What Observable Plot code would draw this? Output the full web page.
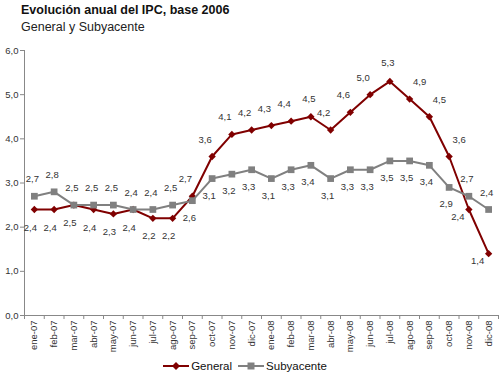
<!DOCTYPE html>
<html>
<head>
<meta charset="utf-8">
<script src="https://cdn.jsdelivr.net/npm/d3@7"></script>
<script src="https://cdn.jsdelivr.net/npm/@observablehq/plot@0.6"></script>
<style>
  html, body { margin: 0; padding: 0; background: #fff; }
  body { width: 500px; height: 374px; position: relative; overflow: hidden; font-family: "Liberation Sans", Arial, sans-serif; }
  #title { position: absolute; left: 21px; top: 3px; font-size: 12.5px; line-height: 14px; font-weight: bold; color: #111; }
  #subtitle { position: absolute; left: 21px; top: 20px; font-size: 12.5px; line-height: 14px; color: #222; }
  #chart { position: absolute; left: 0; top: 38px; }
  #legend { position: absolute; left: 0; top: 359px; width: 490px; display: flex; justify-content: center; align-items: center; font-size: 11.5px; line-height: 14px; color: #111; }
  #legend .item { display: flex; align-items: center; margin: 0 3px; }
  #legend svg { margin-right: 2px; }
</style>
</head>
<body>
<div id="title">Evolución anual del IPC, base 2006</div>
<div id="subtitle">General y Subyacente</div>
<div id="chart"></div>
<div id="legend"></div>
<script>
const months = ["ene-07","feb-07","mar-07","abr-07","may-07","jun-07","jul-07","ago-07","sep-07","oct-07","nov-07","dic-07",
                "ene-08","feb-08","mar-08","abr-08","may-08","jun-08","jul-08","ago-08","sep-08","oct-08","nov-08","dic-08"];
const general    = [2.4,2.4,2.5,2.4,2.3,2.4,2.2,2.2,2.7,3.6,4.1,4.2,4.3,4.4,4.5,4.2,4.6,5.0,5.3,4.9,4.5,3.6,2.4,1.4];
const subyacente = [2.7,2.8,2.5,2.5,2.5,2.4,2.4,2.5,2.6,3.1,3.2,3.3,3.1,3.3,3.4,3.1,3.3,3.3,3.5,3.5,3.4,2.9,2.7,2.4];
const yTicks = [0,1,2,3,4,5,6];
const seriesNames = ["General", "Subyacente"];
const colorGeneral = "#800000";
const colorSub = "#808080";

const fmt = v => v.toFixed(1).replace(".", ",");
const rows = months.map((m, i) => {
  const gp = i > 0 ? general[i-1] : general[i];
  const gn = i < months.length - 1 ? general[i+1] : general[i];
  return {i, m, g: general[i], s: subyacente[i], gSlope: gn - gp, gAbove: general[i] > subyacente[i]};
});

const txt = {fill: "#333", fontSize: 9.5, lineAnchor: "middle"};
const gAboveUp   = rows.filter(d => d.gAbove && d.gSlope > 0.05);
const gAboveDown = rows.filter(d => d.gAbove && d.gSlope < -0.3);
const gAboveFlat = rows.filter(d => d.gAbove && d.gSlope <= 0.05 && d.gSlope >= -0.3);
const gBelowDown = rows.filter(d => !d.gAbove && d.gSlope < -0.3);
const gBelowRest = rows.filter(d => !d.gAbove && d.gSlope >= -0.3);

const boundaries = d3.range(months.length + 1).map(i => i - 0.5);

const chart = Plot.plot({
  width: 500,
  height: 318,
  marginLeft: 24,
  marginRight: 2,
  marginTop: 12,
  marginBottom: 41,
  style: {fontFamily: "Liberation Sans, Arial, sans-serif", background: "transparent"},
  x: {type: "linear", domain: [-0.5, months.length - 0.5], label: null},
  y: {domain: [0, 6], label: null},
  marks: [
    Plot.axisY({ticks: yTicks, tickFormat: fmt, tickSize: 4, tickPadding: 2, fontSize: 9.5, color: "#333", stroke: "#888"}),
    Plot.axisX({ticks: d3.range(months.length), tickFormat: i => months[i], tickSize: 0, tickPadding: 5, tickRotate: -90, fontSize: 9.5, color: "#333"}),
    Plot.axisX({ticks: boundaries, tickFormat: () => "", tickSize: 4, stroke: "#888"}),
    Plot.ruleX([-0.5], {stroke: "#888"}),
    Plot.ruleY([0], {stroke: "#888"}),
    Plot.line(rows, {x: "i", y: "g", stroke: colorGeneral, strokeWidth: 2}),
    Plot.dot(rows, {x: "i", y: "g", symbol: "diamond2", r: 3.3, fill: colorGeneral, stroke: "none"}),
    Plot.line(rows, {x: "i", y: "s", stroke: colorSub, strokeWidth: 2}),
    Plot.dot(rows, {x: "i", y: "s", symbol: "square", r: 3.8, fill: colorSub, stroke: "none"}),
    Plot.text(gAboveUp,   {x: "i", y: "g", text: d => fmt(d.g), dx: -7, dy: -17, ...txt}),
    Plot.text(gAboveDown, {x: "i", y: "g", text: d => fmt(d.g), dx: 10, dy: -17, ...txt}),
    Plot.text(gAboveFlat, {x: "i", y: "g", text: d => fmt(d.g), dx: -2, dy: -18, ...txt}),
    Plot.text(gBelowDown, {x: "i", y: "g", text: d => fmt(d.g), dx: -11, dy: 7, ...txt}),
    Plot.text(gBelowRest, {x: "i", y: "g", text: d => fmt(d.g), dx: -4, dy: 18, ...txt}),
    Plot.text(rows.filter(d => d.gAbove),  {x: "i", y: "s", text: d => fmt(d.s), dx: -3, dy: 17, ...txt}),
    Plot.text(rows.filter(d => !d.gAbove), {x: "i", y: "s", text: d => fmt(d.s), dx: -2, dy: -17, ...txt})
  ]
});
document.getElementById("chart").appendChild(chart);

// Legend
const legend = document.getElementById("legend");
const swatches = [
  {name: seriesNames[0], color: colorGeneral, shape: "diamond"},
  {name: seriesNames[1], color: colorSub, shape: "square"}
];
for (const s of swatches) {
  const item = document.createElement("div");
  item.className = "item";
  const ns = "http://www.w3.org/2000/svg";
  const svg = document.createElementNS(ns, "svg");
  svg.setAttribute("width", 26); svg.setAttribute("height", 12);
  const line = document.createElementNS(ns, "line");
  line.setAttribute("x1", 0); line.setAttribute("x2", 26);
  line.setAttribute("y1", 6); line.setAttribute("y2", 6);
  line.setAttribute("stroke", s.color); line.setAttribute("stroke-width", 2);
  svg.appendChild(line);
  const mk = document.createElementNS(ns, "path");
  mk.setAttribute("d", s.shape === "diamond" ? "M13,2L17,6L13,10L9,6Z" : "M9.5,2.5H16.5V9.5H9.5Z");
  mk.setAttribute("fill", s.color);
  svg.appendChild(mk);
  item.appendChild(svg);
  const label = document.createElement("span");
  label.textContent = s.name;
  item.appendChild(label);
  legend.appendChild(item);
}
</script>
</body>
</html>
